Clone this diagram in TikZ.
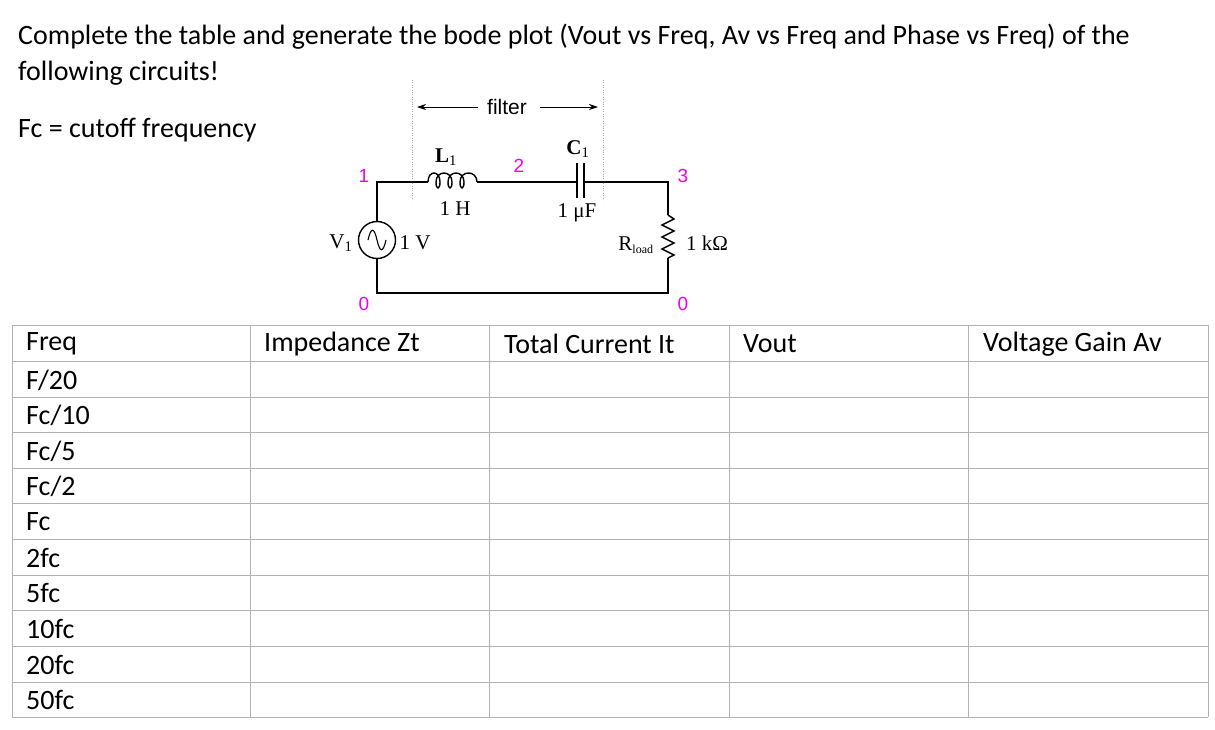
\documentclass[tikz,border=0pt]{standalone}
\usepackage{fontspec}
\setmainfont{Carlito}
\newfontfamily\ser{Liberation Serif}
\newfontfamily\sans{Liberation Sans}
\usetikzlibrary{arrows.meta}
\definecolor{mag}{RGB}{240,0,240}
\begin{document}
\begin{tikzpicture}[x=1pt,y=-1pt,
  txt/.style={anchor=west,inner sep=0,font=\fontsize{28}{32}\selectfont},
  cell/.style={anchor=west,inner sep=0,font=\fontsize{28}{32}\selectfont},
  lbl/.style={inner sep=0,font=\ser\fontsize{21}{24}\selectfont},
  num/.style={inner sep=0,text=mag,font=\sans\fontsize{19}{22}\selectfont},
  wire/.style={line width=1.4pt}]
\useasboundingbox[fill=white] (0,0) rectangle (1215,729);
\node[txt] (t1) at (18,37) {Complete the table and generate the bode plot (Vout vs Freq, Av vs Freq and Phase vs Freq) of the};
\node[txt] (t2) at (18,73) {following circuits!};
\node[txt] (t3) at (18,130) {Fc = cutoff frequency};
% circuit
\coordinate (tl) at (377,182); \coordinate (tr) at (668,182);
\coordinate (bl) at (377,293); \coordinate (br) at (668,293);
\draw[gray!70,dotted] (412,80) -- (412,200) (603,80) -- (603,200);
\node[inner sep=0,font=\sans\fontsize{21}{24}\selectfont] (filt) at (507,107) {filter};
\coordinate (fa) at (417,107); \coordinate (fb) at (598,107);
\draw[-{Stealth[length=9pt,width=6pt]},line width=0.9pt] (478,107) -- (fa);
\draw[-{Stealth[length=9pt,width=6pt]},line width=0.9pt] (540,107) -- (fb);
\node[circle,draw,line width=1.4pt,minimum size=37pt,inner sep=0] (src) at (377,240) {};
\draw[line width=1.1pt] (368,240) .. controls (371,227) and (374,227) .. (377,240) .. controls (380,253) and (383,253) .. (386,240);
\draw[wire] (src.north) -- (tl) -- (428,182);
\draw[wire] (428,182) .. controls (428,170) and (440,170) .. (440,182) .. controls (440,190) and (436,190) .. (436,182)
  .. controls (436,170) and (452,170) .. (452,182) .. controls (452,190) and (448,190) .. (448,182)
  .. controls (448,170) and (464,170) .. (464,182) .. controls (464,190) and (460,190) .. (460,182)
  .. controls (460,170) and (477,170) .. (477,182);
\draw[wire] (477,182) -- (577,182);
\draw[wire] (577,163) -- (577,198) (584,163) -- (584,198);
\draw[wire] (584,182) -- (tr) -- (668,215);
\draw[wire] (668,215) -- (674,219) -- (662,225) -- (674,231) -- (662,237) -- (674,243) -- (662,249) -- (674,255) -- (668,258);
\draw[wire] (668,258) -- (br) -- (bl) -- (src.south);
\node[lbl] (l1) at (446,157) {\textbf{L}\textsubscript{1}};
\node[lbl] (l1v) at (455,209) {1 H};
\node[lbl] (c1) at (578,149) {\textbf{C}\textsubscript{1}};
\node[lbl] (c1v) at (577,213) {1 μF};
\node[lbl] (v1) at (341,243) {V\textsubscript{1}};
\node[lbl] (v1v) at (415,243) {1 V};
\node[lbl] (rl) at (636,245) {R\textsubscript{\fontsize{12}{13}\selectfont load}};
\node[lbl] (rlv) at (707,243) {1 kΩ};
\node[num] (n1) at (364,176) {1};
\node[num] (n2) at (519,166) {2};
\node[num] (n3) at (683,176) {3};
\node[num] (n0a) at (364,304) {0};
\node[num] (n0b) at (683,304) {0};
% table
\foreach \y in {325,361,397,432,468,503,539,575,610,646,682,717} \draw[gray!60,line width=0.8pt] (12,\y) -- (1208,\y);
\foreach \x in {12,250,489,729,968,1208} \draw[gray!60,line width=0.8pt] (\x,325) -- (\x,717);
\node[cell] (h1) at (26,344) {Freq};
\node[cell] (h2) at (264,344) {Impedance Zt};
\node[cell] (h3) at (504,344) {Total Current It};
\node[cell] (h4) at (743,344) {Vout};
\node[cell] (h5) at (983,344) {Voltage Gain Av};
\node[cell] (r1) at (26,380) {F/20};
\node[cell] (r2) at (26,415) {Fc/10};
\node[cell] (r3) at (26,451) {Fc/5};
\node[cell] (r4) at (26,486) {Fc/2};
\node[cell] (r5) at (26,522) {Fc};
\node[cell] (r6) at (26,558) {2fc};
\node[cell] (r7) at (26,593) {5fc};
\node[cell] (r8) at (26,629) {10fc};
\node[cell] (r9) at (26,665) {20fc};
\node[cell] (r10) at (26,700) {50fc};
\end{tikzpicture}
\end{document}
